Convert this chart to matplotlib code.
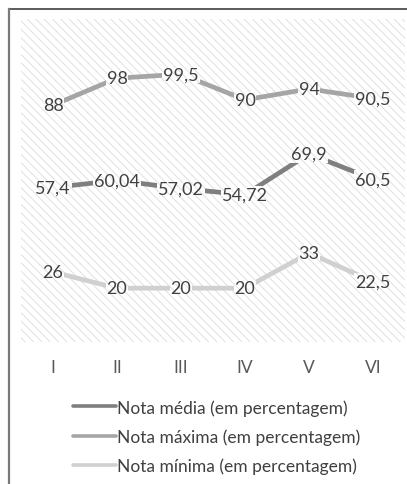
import matplotlib
matplotlib.use("Agg")
import matplotlib.pyplot as plt
from matplotlib.patches import Rectangle
from matplotlib.lines import Line2D

plt.rcParams['font.family'] = ['Lato', 'DejaVu Sans']
plt.rcParams['hatch.linewidth'] = 0.6

categories = ["I", "II", "III", "IV", "V", "VI"]
nota_media = [57.4, 60.04, 57.02, 54.72, 69.9, 60.5]
nota_maxima = [88, 98, 99.5, 90, 94, 90.5]
nota_minima = [26, 20, 20, 20, 33, 22.5]
label_media = ["57,4", "60,04", "57,02", "54,72", "69,9", "60,5"]
label_maxima = ["88", "98", "99,5", "90", "94", "90,5"]
label_minima = ["26", "20", "20", "20", "33", "22,5"]
legend_names = ["Nota média (em percentagem)",
                "Nota máxima (em percentagem)",
                "Nota mínima (em percentagem)"]

HATCH_COLOR = "#dcdcdc"
HATCH = "\\\\\\\\"

W, H = 407, 485
fig = plt.figure(figsize=(W / 100, H / 100), dpi=100)

# chart frame (top and left edges visible)
fig.add_artist(Line2D([8.5 / W, 1.0], [1 - 9.5 / H, 1 - 9.5 / H],
                      transform=fig.transFigure, color="#404040", lw=1.2))
fig.add_artist(Line2D([8.5 / W, 8.5 / W], [0, 1 - 9.5 / H],
                      transform=fig.transFigure, color="#7a7a7a", lw=1.6))

ax = fig.add_axes([21 / W, 1 - 343 / H, 384 / W, 323 / H])
ax.set_facecolor("none")
ax.add_patch(Rectangle((0, 0), 1, 1, transform=ax.transAxes, facecolor="white",
                       edgecolor=HATCH_COLOR, lw=0, hatch=HATCH, zorder=0))

x = list(range(len(categories)))
series = [
    (nota_media, label_media, "#7f7f7f", legend_names[0]),
    (nota_maxima, label_maxima, "#a5a5a5", legend_names[1]),
    (nota_minima, label_minima, "#d0d0d0", legend_names[2]),
]
for vals, labels, color, name in series:
    ax.plot(x, vals, color=color, lw=3.4, solid_capstyle="round", label=name, zorder=2)
    for xi, v, t in zip(x, vals, labels):
        ax.text(xi, v, t, ha="center", va="center", fontsize=13, color="#404040", zorder=3,
                bbox=dict(boxstyle="square,pad=0.05", fc="white", ec=HATCH_COLOR,
                          lw=0, hatch=HATCH))

ax.set_xlim(-0.5, len(categories) - 0.5)
ax.set_ylim(0, 120)
ax.set_xticks(x)
ax.set_xticklabels(categories, fontsize=12.5, color="#595959")
ax.tick_params(axis="x", length=0, pad=12)
ax.set_yticks([])
for s in ax.spines.values():
    s.set_visible(False)

handles, names = ax.get_legend_handles_labels()
leg = fig.legend(handles, names, loc="upper left", bbox_to_anchor=(73 / W, 1 - 400 / H),
                 frameon=False, fontsize=12.5, handlelength=2.45, handletextpad=0.1,
                 labelspacing=0.74, borderaxespad=0, borderpad=0)
for line in leg.get_lines():
    line.set_linewidth(2.6)
for t in leg.get_texts():
    t.set_color("#404040")

fig.savefig("out.png", dpi=100)
